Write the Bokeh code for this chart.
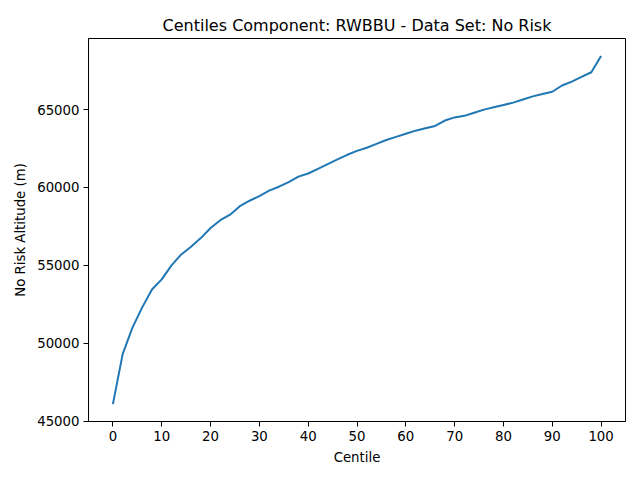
from bokeh.plotting import figure
from bokeh.embed import file_html
from bokeh.resources import INLINE
from bokeh.models import Range1d, FixedTicker, NumeralTickFormatter

centiles = list(range(0, 101, 2))
altitude = [46090, 49300, 51000, 52300, 53450, 54100, 55000, 55700, 56200, 56750,
            57400, 57900, 58250, 58800, 59150, 59450, 59800, 60050, 60350, 60700,
            60900, 61200, 61500, 61800, 62100, 62350, 62550, 62800, 63050, 63250,
            63450, 63650, 63800, 63950, 64300, 64500, 64600, 64800, 65000, 65150,
            65300, 65450, 65650, 65850, 66000, 66150, 66550, 66800, 67100, 67400,
            68450]
x_ticks = list(range(0, 101, 10))
y_ticks = [45000, 50000, 55000, 60000, 65000]

FONT = "DejaVu Sans"

p = figure(width=632, height=472, output_backend="svg", toolbar_location=None,
           title="Centiles Component: RWBBU - Data Set: No Risk",
           frame_width=537, frame_height=383,
           x_range=Range1d(-5, 105), y_range=Range1d(44972, 69568))
p.min_border_left = 88
p.min_border_right = 7
p.min_border_top = 38
p.min_border_bottom = 51

p.line(centiles, altitude, line_color="#1f77b4", line_width=2)

p.title.align = "center"
p.title.text_font = FONT
p.title.text_font_size = "16px"
p.title.text_font_style = "normal"
p.title.text_color = "black"
p.title.standoff = 8

p.xgrid.visible = False
p.ygrid.visible = False
p.outline_line_color = "black"
p.outline_line_width = 1
p.outline_line_alpha = 1

p.xaxis.ticker = FixedTicker(ticks=x_ticks)
p.yaxis.ticker = FixedTicker(ticks=y_ticks)
p.yaxis.formatter = NumeralTickFormatter(format="0")
p.xaxis.axis_label = "Centile"
p.yaxis.axis_label = "No Risk Altitude (m)"

for ax in (p.xaxis, p.yaxis):
    ax.axis_label_text_font = FONT
    ax.axis_label_text_font_size = "13.3px"
    ax.axis_label_text_font_style = "normal"
    ax.axis_label_text_color = "black"
    ax.major_label_text_font = FONT
    ax.major_label_text_font_size = "13.3px"
    ax.major_label_text_color = "black"
    ax.axis_line_color = "black"
    ax.major_tick_line_color = "black"
    ax.major_tick_out = 5
    ax.major_tick_in = 0
    ax.minor_tick_line_color = None
    ax.axis_label_standoff = 6
    ax.major_label_standoff = 4

open("out.html", "w").write(file_html(p, INLINE))
